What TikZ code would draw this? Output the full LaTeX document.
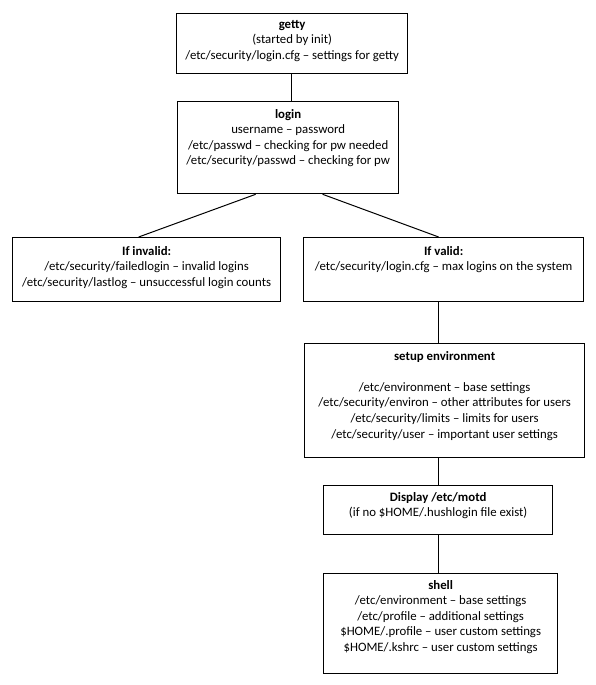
\documentclass[tikz,border=0pt]{standalone}
\usepackage{fontspec}
\setmainfont{Carlito}

\tikzset{
  box/.style={draw=black, line width=1.3pt, anchor=north west, inner sep=0pt},
  boxtext/.style={anchor=north, align=center, inner sep=0pt,
    font=\fontsize{12.8}{15.6}\selectfont, execute at begin node={\strut}},
  link/.style={draw=black, line width=1pt}
}

\begin{document}
\begin{tikzpicture}[x=1pt,y=-1pt]

    \useasboundingbox (0,0) rectangle (595,685);

    % Place the boxes
    \node[box, minimum width=231, minimum height=60] (getty) at (176,13) {};
    \node[box, minimum width=221, minimum height=92] (login) at (177,101) {};
    \node[box, minimum width=268, minimum height=64] (invalid) at (12,237) {};
    \node[box, minimum width=280, minimum height=64] (valid) at (303,237) {};
    \node[box, minimum width=280, minimum height=114] (setup) at (304,343) {};
    \node[box, minimum width=229, minimum height=49] (motd) at (323,485) {};
    \node[box, minimum width=234, minimum height=100] (shell) at (323,573) {};

    % Place the texts inside the boxes
    \node[boxtext] (gettytext) at ([yshift=-7pt]getty.north)
      {\textbf{getty}\\(started by init)\\/etc/security/login.cfg – settings for getty};
    \node[boxtext] (logintext) at ([yshift=-8pt]login.north)
      {\textbf{login}\\username – password\\/etc/passwd – checking for pw needed\\/etc/security/passwd – checking for pw};
    \node[boxtext] (invalidtext) at ([yshift=-9pt]invalid.north)
      {\textbf{If invalid:}\\/etc/security/failedlogin – invalid logins\\/etc/security/lastlog – unsuccessful login counts};
    \node[boxtext] (validtext) at ([yshift=-9pt]valid.north)
      {\textbf{If valid:}\\/etc/security/login.cfg – max logins on the system};
    \node[boxtext] (setuptext) at ([yshift=-8pt]setup.north)
      {\textbf{setup environment}\\[15.5pt]/etc/environment – base settings\\/etc/security/environ – other attributes for users\\/etc/security/limits – limits for users\\/etc/security/user – important user settings};
    \node[boxtext] (motdtext) at ([yshift=-7pt]motd.north)
      {\textbf{Display /etc/motd}\\(if no \$HOME/.hushlogin file exist)};
    \node[boxtext] (shelltext) at ([yshift=-7pt]shell.north)
      {\textbf{shell}\\/etc/environment – base settings\\/etc/profile – additional settings\\\$HOME/.profile – user custom settings\\\$HOME/.kshrc – user custom settings};

    % Connect the boxes
    \draw[link] ([xshift=-1pt]getty.south) -- ([xshift=-1pt]getty.south |- login.north);
    \draw[link] ([xshift=-32.5pt]login.south) -- ([xshift=-8pt]invalid.north);
    \draw[link] ([xshift=34.5pt]login.south) -- ([xshift=-5pt]valid.north);
    \draw[link] ([xshift=-5pt]valid.south) -- ([xshift=-5pt]valid.south |- setup.north);
    \draw[link] ([xshift=-6pt]setup.south) -- ([xshift=-6pt]setup.south |- motd.north);
    \draw[link] ([xshift=0.5pt]motd.south) -- ([xshift=0.5pt]motd.south |- shell.north);

\end{tikzpicture}
\end{document}
